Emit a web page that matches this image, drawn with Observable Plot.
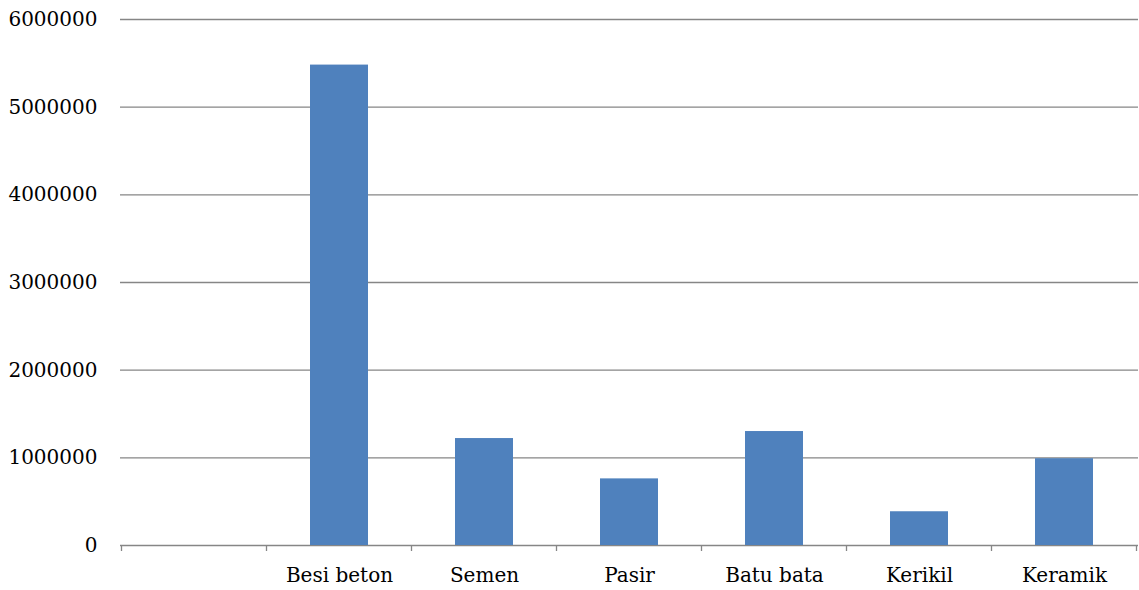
<!DOCTYPE html>
<html>
<head>
<meta charset="utf-8">
<script src="https://cdn.jsdelivr.net/npm/d3@7"></script>
<script src="https://cdn.jsdelivr.net/npm/@observablehq/plot@0.6"></script>
<style>
  html, body { margin: 0; padding: 0; background: #fff; }
</style>
</head>
<body>
<div id="chart"></div>
<script>
const categories = ["", "Besi beton", "Semen", "Pasir", "Batu bata", "Kerikil", "Keramik"];
const values = [null, 5480000, 1220000, 760000, 1300000, 385000, 990000];
const yTicks = [0, 1000000, 2000000, 3000000, 4000000, 5000000, 6000000];

const data = categories
  .map((c, i) => ({category: c, value: values[i]}))
  .filter(d => d.value != null);

const gridColor = "#868686";
const font = "DejaVu Serif";

const plot = Plot.plot({
  width: 1139,
  height: 590,
  marginLeft: 120,
  marginRight: 1,
  marginTop: 19,
  marginBottom: 45,
  style: {fontFamily: font, fontSize: "20px", color: "#000", background: "#fff"},
  x: {domain: categories, paddingInner: 0.6, paddingOuter: 0.3, label: null},
  y: {domain: [0, 6000000], label: null},
  marks: [
    Plot.gridY(yTicks, {stroke: gridColor, strokeOpacity: 1, strokeWidth: 1.3}),
    Plot.barY(data, {x: "category", y: "value", fill: "#4F81BD"}),
    Plot.axisY(yTicks, {tickSize: 0, tickPadding: 23, tickFormat: d => String(d), fontSize: 20, fontFamily: font}),
    Plot.axisX({tickSize: 0, tickPadding: 22, fontSize: 20, fontFamily: font})
  ]
});

// category boundary tick marks along the baseline
const sx = plot.scale("x");
const sy = plot.scale("y");
const y0 = sy.apply(0);
const bounds = categories.map(c => sx.apply(c) + sx.bandwidth / 2 - sx.step / 2);
bounds.push(bounds[bounds.length - 1] + sx.step);
d3.select(plot).append("g")
  .attr("stroke", gridColor)
  .attr("stroke-width", 1.3)
  .selectAll("line")
  .data(bounds)
  .join("line")
  .attr("x1", d => d)
  .attr("x2", d => d)
  .attr("y1", y0)
  .attr("y2", y0 + 6);

document.getElementById("chart").appendChild(plot);
</script>
</body>
</html>
